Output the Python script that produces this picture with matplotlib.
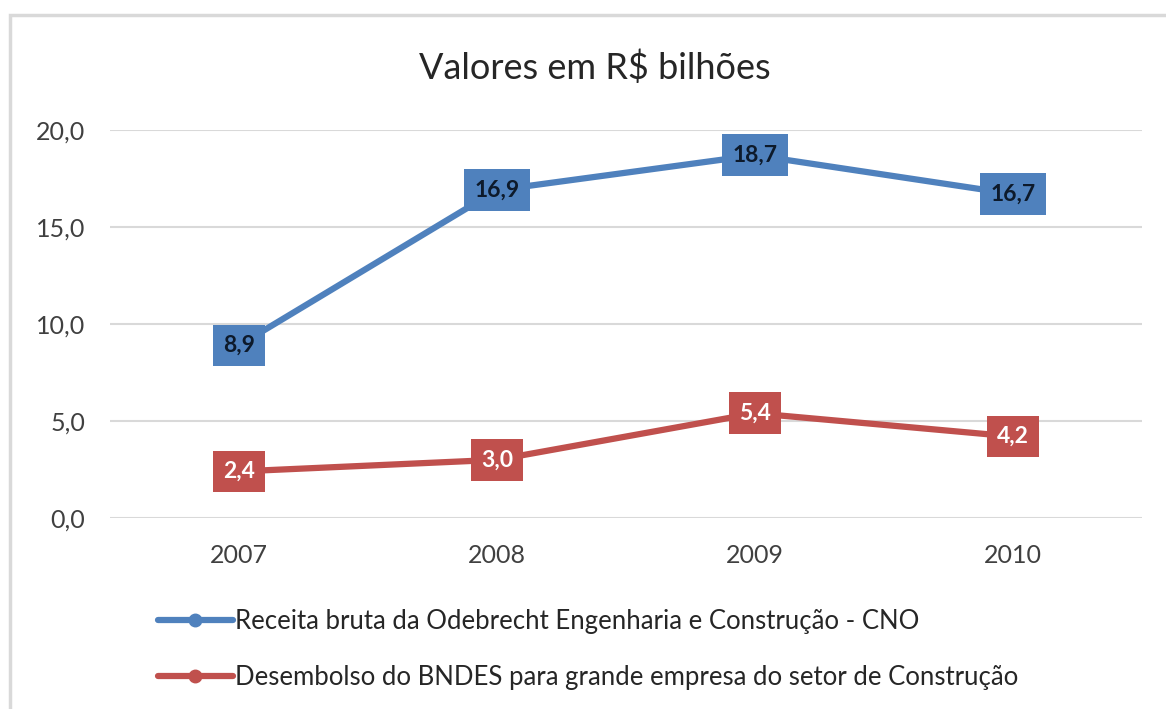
import matplotlib.pyplot as plt
from matplotlib.patches import Rectangle

plt.rcParams['font.family'] = ['Lato', 'DejaVu Sans']

# data
years = ['2007', '2008', '2009', '2010']
receita_cno = [8.9, 16.9, 18.7, 16.7]
desembolso_bndes = [2.4, 3.0, 5.4, 4.2]
series_labels = ['Receita bruta da Odebrecht Engenharia e Construção - CNO',
                 'Desembolso do BNDES para grande empresa do setor de Construção']
yticks = [0, 5, 10, 15, 20]

blue = '#4f81bd'
red = '#c0504d'

W, H = 1166, 709
fig = plt.figure(figsize=(W / 100, H / 100), dpi=100)
ax = fig.add_axes([110 / W, 1 - 518 / H, (1142 - 110) / W, (518 - 130) / H])

x = list(range(len(years)))
ax.plot(x, receita_cno, color=blue, lw=4.5, marker='o', ms=9, label=series_labels[0],
        solid_capstyle='round', zorder=3)
ax.plot(x, desembolso_bndes, color=red, lw=4.5, marker='o', ms=9, label=series_labels[1],
        solid_capstyle='round', zorder=3)

# data labels
for xi, v in zip(x, receita_cno):
    ax.text(xi, v, f'{v:.1f}'.replace('.', ','), ha='center', va='center', fontsize=16.5,
            fontweight='bold', color='#0d1a2b', zorder=5,
            bbox=dict(boxstyle='square,pad=0.45', fc=blue, ec='none'))
for xi, v in zip(x, desembolso_bndes):
    ax.text(xi, v, f'{v:.1f}'.replace('.', ','), ha='center', va='center', fontsize=16.5,
            fontweight='bold', color='white', zorder=5,
            bbox=dict(boxstyle='square,pad=0.45', fc=red, ec='none'))

ax.set_xlim(-0.5, len(years) - 0.5)
ax.set_ylim(0, 20)
ax.set_xticks(x)
ax.set_xticklabels(years)
ax.set_yticks(yticks)
ax.set_yticklabels([f'{t:.1f}'.replace('.', ',') for t in yticks])
ax.tick_params(length=0, labelsize=18, colors='#404040')
ax.tick_params(axis='y', pad=18)
ax.tick_params(axis='x', pad=19)
ax.grid(axis='y', color='#d9d9d9', lw=1.5)
ax.set_axisbelow(True)
for s in ax.spines.values():
    s.set_visible(False)

fig.text(595 / W, 1 - 68 / H, 'Valores em R$ bilhões', ha='center', va='center',
         fontsize=26, color='#262626')

ax.legend(loc='upper left', bbox_to_anchor=(135 / W, 1 - 586 / H), bbox_transform=fig.transFigure,
          frameon=False, fontsize=18.5, handlelength=2.9, handletextpad=0.1, labelspacing=1.2,
          labelcolor='#262626')

# outer border of the chart area
fig.add_artist(Rectangle((10 / W, -0.05), 1.2, 1 - 15 / H + 0.05, transform=fig.transFigure,
                         fill=False, ec='#d9d9d9', lw=2.5))

fig.savefig('out.png', dpi=100, facecolor='white')
